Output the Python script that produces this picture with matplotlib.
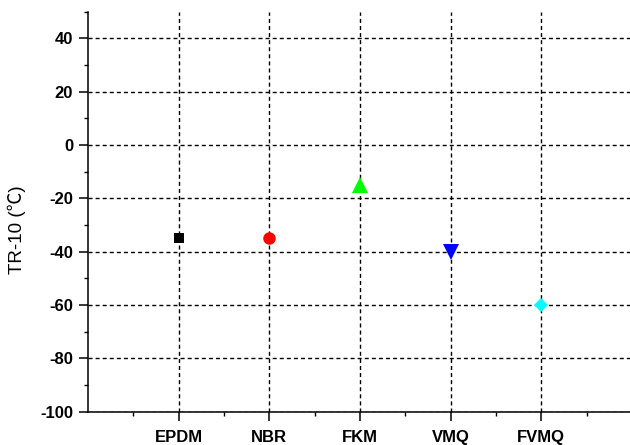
import matplotlib.pyplot as plt
from matplotlib.ticker import MultipleLocator

plt.rcParams["axes.unicode_minus"] = False

# datos
materiales = ["EPDM", "NBR", "FKM", "VMQ", "FVMQ"]
posiciones = [1, 2, 3, 4, 5]
tr10 = [-35, -35, -15, -40, -60]
marcadores = ["s", "o", "^", "v", "D"]
colores = ["#000000", "#ff0000", "#00ff00", "#0000ff", "#00ffff"]
tamanos = [7.5, 9, 11, 11, 7.5]

fig = plt.figure(figsize=(6.3, 4.45), dpi=100)
ax = fig.add_axes([88 / 630, 1 - 411.7 / 445, 544 / 630, 400 / 445])

# un punto por material
for x, y, m, c, s in zip(posiciones, tr10, marcadores, colores, tamanos):
    ax.plot(x, y, marker=m, color=c, markersize=s, markeredgewidth=0,
            linestyle="none", zorder=3)

ax.set_xlim(0, 6)
ax.set_ylim(-100, 50)
ax.set_xticks(posiciones)
ax.set_xticklabels(materiales)
ax.set_xticks([0.5, 1.5, 2.5, 3.5, 4.5, 5.5], minor=True)
ax.set_yticks([-100, -80, -60, -40, -20, 0, 20, 40])
ax.yaxis.set_minor_locator(MultipleLocator(10))

ax.grid(True, which="major", color="black", linestyle=(0, (2.9, 2.2)),
        linewidth=1.0)
ax.set_axisbelow(True)

for lado in ["top", "right"]:
    ax.spines[lado].set_visible(False)
for lado in ["left", "bottom"]:
    ax.spines[lado].set_linewidth(1.1)

ax.tick_params(which="major", direction="out", length=6.2, width=1.1,
               labelsize=12, pad=4.5)
ax.tick_params(which="minor", direction="out", length=3, width=1.0)
ax.tick_params(axis="x", which="major", pad=7)

for t in ax.get_xticklabels() + ax.get_yticklabels():
    t.set_fontfamily(["Liberation Sans", "DejaVu Sans"])
    t.set_fontweight("bold")

ax.set_ylabel("TR-10 (℃)", fontsize=13.5,
              family=["Liberation Sans", "Noto Sans CJK SC"])
ax.yaxis.set_label_coords(-0.114, 0.454)

fig.savefig("out.png", dpi=100)
